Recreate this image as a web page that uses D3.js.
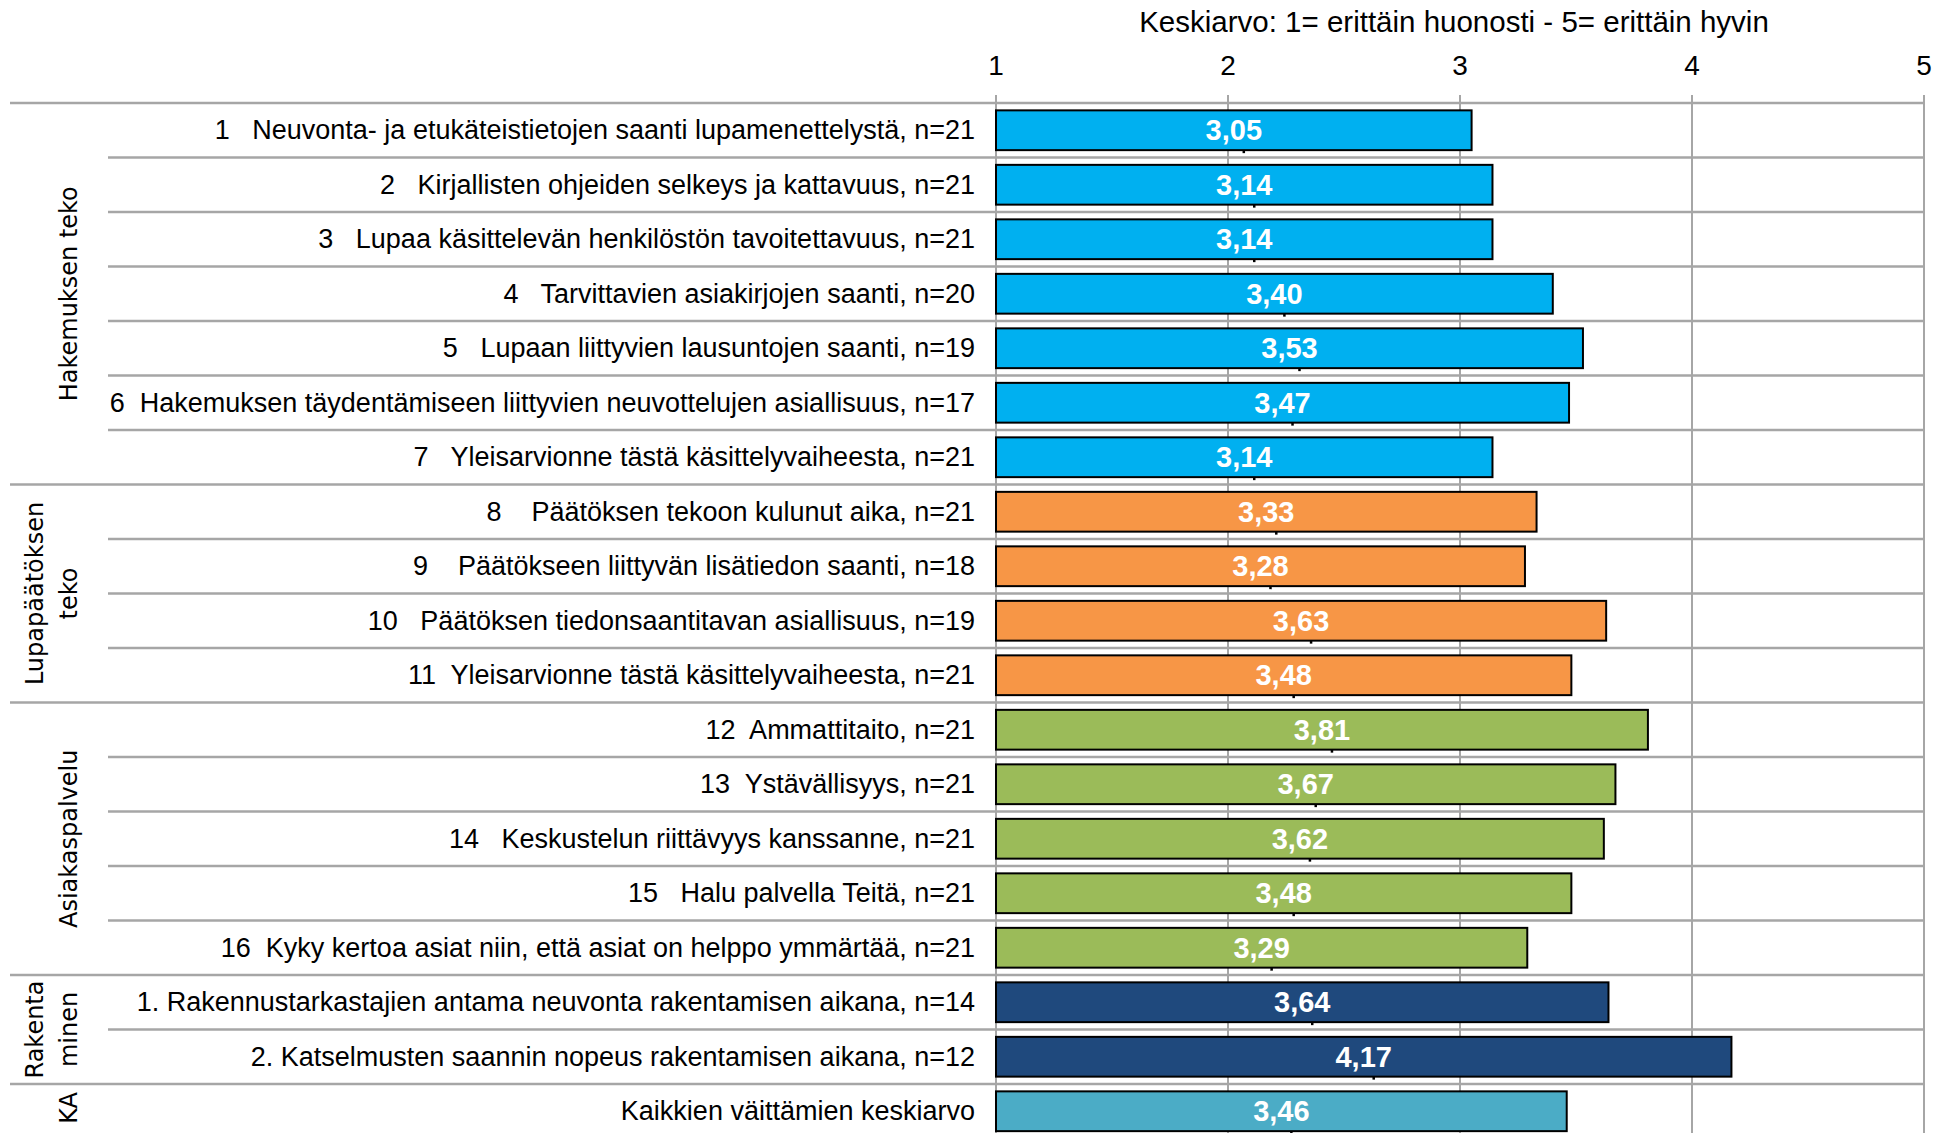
<!DOCTYPE html>
<html><head><meta charset="utf-8">
<script src="https://cdn.jsdelivr.net/npm/d3@7"></script>
<style>
html,body{margin:0;padding:0;background:#fff;}
svg{display:block;}
</style></head>
<body><svg id="chart" width="1944" height="1133"></svg>
<script>
// ---- data ----
const labels = [
  "1   Neuvonta- ja etukäteistietojen saanti lupamenettelystä, n=21",
  "2   Kirjallisten ohjeiden selkeys ja kattavuus, n=21",
  "3   Lupaa käsittelevän henkilöstön tavoitettavuus, n=21",
  "4   Tarvittavien asiakirjojen saanti, n=20",
  "5   Lupaan liittyvien lausuntojen saanti, n=19",
  "6  Hakemuksen täydentämiseen liittyvien neuvottelujen asiallisuus, n=17",
  "7   Yleisarvionne tästä käsittelyvaiheesta, n=21",
  "8    Päätöksen tekoon kulunut aika, n=21",
  "9    Päätökseen liittyvän lisätiedon saanti, n=18",
  "10   Päätöksen tiedonsaantitavan asiallisuus, n=19",
  "11  Yleisarvionne tästä käsittelyvaiheesta, n=21",
  "12  Ammattitaito, n=21",
  "13  Ystävällisyys, n=21",
  "14   Keskustelun riittävyys kanssanne, n=21",
  "15   Halu palvella Teitä, n=21",
  "16  Kyky kertoa asiat niin, että asiat on helppo ymmärtää, n=21",
  "1. Rakennustarkastajien antama neuvonta rakentamisen aikana, n=14",
  "2. Katselmusten saannin nopeus rakentamisen aikana, n=12",
  "Kaikkien väittämien keskiarvo"
];
const values = [3.05,3.14,3.14,3.40,3.53,3.47,3.14,3.33,3.28,3.63,3.48,3.81,3.67,3.62,3.48,3.29,3.64,4.17,3.46];
const rowGroup = [0,0,0,0,0,0,0,1,1,1,1,2,2,2,2,2,3,3,4];
const groupNames = [["Hakemuksen teko"],["Lupapäätöksen","teko"],["Asiakaspalvelu"],["Rakenta","minen"],["KA"]];
const groupColors = ["#00B0F0","#F79646","#9BBB59","#1F497D","#4BACC6"];
const xTicks = [1,2,3,4,5];
const title = "Keskiarvo: 1= erittäin huonosti - 5= erittäin hyvin";

// ---- layout ----
const svg = d3.select("#chart");
const X0 = 996, X1 = 1924, TOP = 103, ROWH = 54.5;
const x = d3.scaleLinear().domain([1,5]).range([X0,X1]);
const y = d3.scaleBand().domain(d3.range(labels.length)).range([TOP, TOP + ROWH*labels.length]).padding(0);
const narrow = "'Liberation Sans Narrow','Arial Narrow',sans-serif";
const gridCol = "#a6a6a6";

// title
svg.append("text").attr("x", x(3)-6).attr("y", 32).attr("text-anchor","middle")
  .attr("font-family", narrow).attr("font-size", 29.5).attr("fill","#000").text(title);

// tick labels
svg.append("g").selectAll("text").data(xTicks).join("text")
  .attr("x", d=>x(d)).attr("y", 75).attr("text-anchor","middle")
  .attr("font-family", narrow).attr("font-size", 28).attr("fill","#000").text(d=>d);

// vertical gridlines
svg.append("g").selectAll("line").data(xTicks).join("line")
  .attr("x1", d=>x(d)).attr("x2", d=>x(d)).attr("y1", TOP-8).attr("y2", 1133)
  .attr("stroke", gridCol).attr("stroke-width", 2);

// horizontal row lines
const lineYs = d3.range(labels.length+1);
svg.append("g").selectAll("line").data(lineYs).join("line")
  .attr("x1", i => (i===0 || i===labels.length || rowGroup[i] !== rowGroup[i-1]) ? 10 : 108)
  .attr("x2", x(5))
  .attr("y1", i => i<labels.length ? y(i) : TOP + ROWH*labels.length)
  .attr("y2", i => i<labels.length ? y(i) : TOP + ROWH*labels.length)
  .attr("stroke", gridCol).attr("stroke-width", 2.5);

// bars
const bh = y.bandwidth()*0.73;
svg.append("g").selectAll("rect").data(values).join("rect")
  .attr("x", x(1)).attr("y", (d,i)=>y(i) + (y.bandwidth()-bh)/2)
  .attr("width", d=>x(d)-x(1)).attr("height", bh)
  .attr("fill", (d,i)=>groupColors[rowGroup[i]])
  .attr("stroke", "#000").attr("stroke-width", 2);

// small marks under bar centres
svg.append("g").selectAll("line").data(values).join("line")
  .attr("x1", d=>(x(1)+x(d))/2+10).attr("x2", d=>(x(1)+x(d))/2+10)
  .attr("y1", (d,i)=>y(i) + (y.bandwidth()+bh)/2).attr("y2", (d,i)=>y(i) + (y.bandwidth()+bh)/2+3)
  .attr("stroke","#000").attr("stroke-width",2.5);

// value labels
svg.append("g").selectAll("text").data(values).join("text")
  .attr("x", d=>(x(1)+x(d))/2).attr("y", (d,i)=>y(i)+y.bandwidth()/2+10)
  .attr("text-anchor","middle").attr("font-family", narrow)
  .attr("font-weight","bold").attr("font-size", 29).attr("fill","#fff")
  .text(d=>d.toFixed(2).replace(".",","));

// row labels
svg.append("g").selectAll("text").data(labels).join("text")
  .attr("x", 975).attr("y", (d,i)=>y(i)+y.bandwidth()/2+9)
  .attr("text-anchor","end").attr("font-family", narrow).attr("font-size", 27)
  .attr("fill","#000").attr("xml:space","preserve").style("white-space","pre").text(d=>d);

// group labels
groupNames.forEach((lines, g) => {
  const idx = rowGroup.map((v,i)=>v===g?i:-1).filter(i=>i>=0);
  const yStart = y(idx[0]);
  const yEnd = y(idx[idx.length-1]) + y.bandwidth();
  const cy = Math.min((yStart+yEnd)/2, 1133-25);
  const n = lines.length;
  lines.forEach((ln, k) => {
    const cx = n===1 ? 68 : (k===0 ? 34 : 68);
    svg.append("text")
      .attr("transform", `translate(${cx+9},${cy}) rotate(-90)`)
      .attr("text-anchor","middle").attr("font-family","'DejaVu Sans',sans-serif")
      .attr("font-size", 24).attr("fill","#000").text(ln);
  });
});
</script>
</body></html>
